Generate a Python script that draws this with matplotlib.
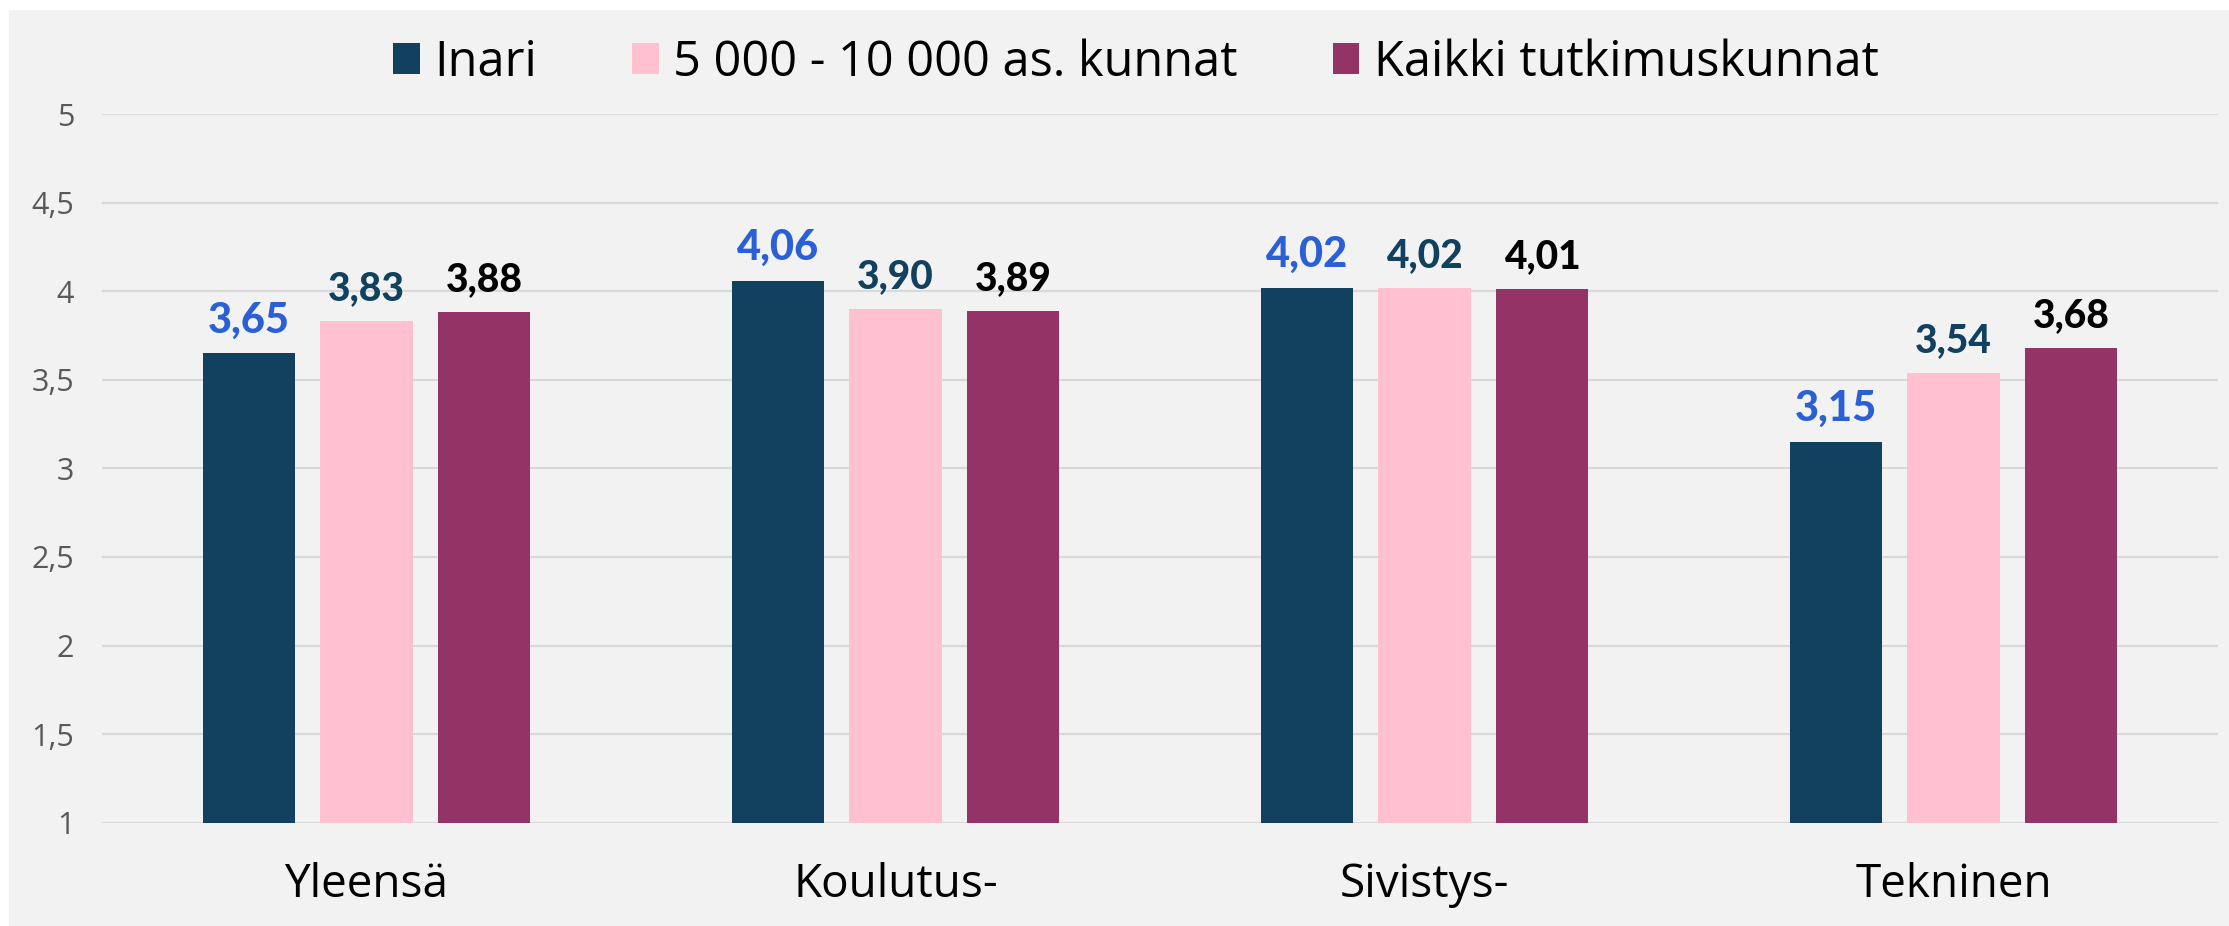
import matplotlib
matplotlib.use("Agg")
import matplotlib.pyplot as plt
import numpy as np
from matplotlib.patches import Rectangle

categories = ["Yleensä", "Koulutus-", "Sivistys-", "Tekninen"]
series_names = ["Inari", "5 000 - 10 000 as. kunnat", "Kaikki tutkimuskunnat"]
inari = [3.65, 4.06, 4.02, 3.15]
kunnat_5_10 = [3.83, 3.90, 4.02, 3.54]
kaikki = [3.88, 3.89, 4.01, 3.68]
y_ticks = [1, 1.5, 2, 2.5, 3, 3.5, 4, 4.5, 5]
y_tick_labels = ["1", "1,5", "2", "2,5", "3", "3,5", "4", "4,5", "5"]

bar_colors = ["#12405F", "#FFC0CF", "#933366"]
label_colors = ["#2A5FD6", "#12405F", "#000000"]
label_sizes = [30, 28, 28]

W, H = 2229, 926
fig = plt.figure(figsize=(W / 100, H / 100), dpi=100)
fig.patch.set_facecolor("white")
fig.patches.append(Rectangle((9 / W, 0), 1 - 9 / W, 1 - 10 / H, transform=fig.transFigure,
                             facecolor="#F2F2F2", edgecolor="none", zorder=-10))

ax = fig.add_axes([102 / W, 1 - 822.7 / H, (2218 - 102) / W, (822.7 - 114) / H])
ax.set_facecolor("none")
ax.set_zorder(1)

x = np.arange(len(categories))
width = 0.174
step = 0.222
all_series = [inari, kunnat_5_10, kaikki]
for i, (vals, name) in enumerate(zip(all_series, series_names)):
    pos = x + (i - 1) * step
    bars = ax.bar(pos, vals, width=width, color=bar_colors[i], label=name, zorder=3)
    for xp, v in zip(pos, vals):
        ax.annotate(f"{v:.2f}".replace(".", ","), (xp, v), xytext=(0, 15), textcoords="offset points",
                    ha="center", va="baseline", fontsize=label_sizes[i], fontweight=900,
                    color=label_colors[i], family="Lato", zorder=4)

ax.set_xlim(-0.5, 3.5)
ax.set_ylim(1, 5)
ax.set_yticks(y_ticks)
ax.set_yticklabels(y_tick_labels, family="Open Sans", fontsize=22, color="#595959")
ax.set_xticks(x)
ax.set_xticklabels(categories, family="Open Sans", fontsize=33, color="#000000")
ax.tick_params(axis="y", length=0, pad=20)
ax.tick_params(axis="x", length=0, pad=28)
ax.grid(axis="y", color="#D9D9D9", linewidth=1.6, zorder=0)
ax.set_axisbelow(True)
for s in ax.spines.values():
    s.set_visible(False)

leg = fig.legend(loc="center", bbox_to_anchor=(1136 / W, 1 - 63 / H), ncol=3, frameon=False,
                 prop={"family": "Open Sans", "size": 35}, handlelength=0.55, handleheight=0.6,
                 handletextpad=0.3, columnspacing=1.95)

fig.savefig("out.png", dpi=100)
